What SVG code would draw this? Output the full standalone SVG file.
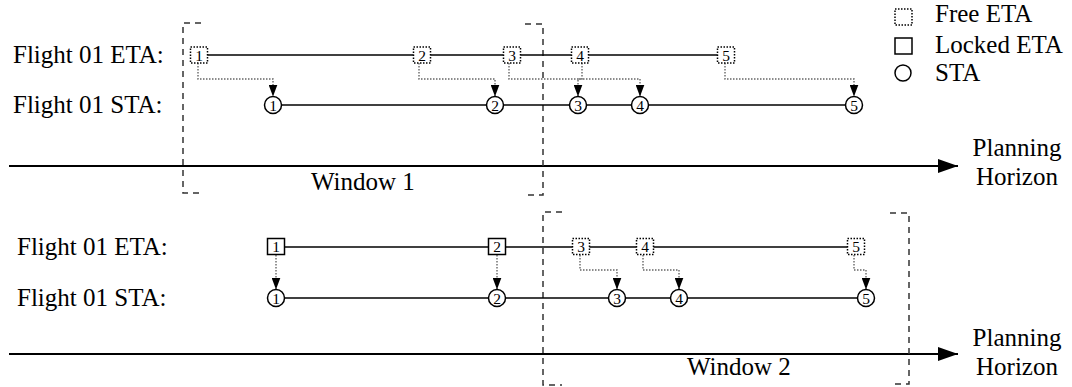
<svg xmlns="http://www.w3.org/2000/svg" width="1072" height="387" viewBox="0 0 1072 387">
<style>
text{font-family:"Liberation Serif","DejaVu Serif","Times New Roman",serif;fill:#000}
.lbl{font-size:25px}
.num{font-size:15.5px;text-anchor:middle}
.free{fill:#fff;stroke:#000;stroke-width:1.5;stroke-dasharray:1.5 1.5}
.locked{fill:#fff;stroke:#000;stroke-width:1.5}
.sta{fill:#fff;stroke:#000;stroke-width:1.5}
.tl{stroke:#000;stroke-width:1.6;fill:none}
.conn{stroke:#666;stroke-width:1.4;stroke-dasharray:1.5 1.5;fill:none;marker-end:url(#ah)}
.axis{stroke:#000;stroke-width:2;fill:none;marker-end:url(#ax)}
.win{stroke:#333;stroke-width:1.5;stroke-dasharray:6 5;fill:none}
</style>
<defs>
<marker id="ah" markerUnits="userSpaceOnUse" markerWidth="12" markerHeight="9" refX="12" refY="4.5" orient="auto" viewBox="0 0 12 9">
<path d="M0,0 L12,4.5 L0,9 z" fill="#000" stroke="none"/>
</marker>
<marker id="ax" markerUnits="userSpaceOnUse" markerWidth="20" markerHeight="14" refX="20" refY="7" orient="auto" viewBox="0 0 20 14">
<path d="M0,0 L20,7 L0,14 z" fill="#000" stroke="none"/>
</marker>
</defs>

<g id="axes">
<path class="axis" d="M9,166 H958"/>
<path class="axis" d="M9,354 H958"/>
<text class="lbl" x="1017" y="156" text-anchor="middle">Planning</text>
<text class="lbl" x="1017" y="185" text-anchor="middle">Horizon</text>
<text class="lbl" x="1017" y="346" text-anchor="middle">Planning</text>
<text class="lbl" x="1017" y="375" text-anchor="middle">Horizon</text>
</g>

<g id="window1">
<path class="win" d="M201,23 H183 V193 H201"/>
<path class="win" d="M525,24 H543 V195 H525"/>
<text class="lbl" x="311" y="190">Window 1</text>
</g>
<g id="window2">
<path class="win" d="M562,212 H543 V385 H562"/>
<path class="win" d="M890,213 H909 V384 H890"/>
<text class="lbl" x="687" y="375">Window 2</text>
</g>

<g id="legend">
<rect class="free" x="895" y="9" width="17" height="16"/>
<text class="lbl" x="935" y="22">Free ETA</text>
<rect class="locked" x="895" y="38" width="17" height="16"/>
<text class="lbl" x="935" y="53">Locked ETA</text>
<circle class="sta" cx="903" cy="73" r="8"/>
<text class="lbl" x="935" y="81">STA</text>
</g>

<g id="labels">
<text class="lbl" x="13" y="63">Flight 01 ETA:</text>
<text class="lbl" x="13" y="113">Flight 01 STA:</text>
<text class="lbl" x="17" y="255">Flight 01 ETA:</text>
<text class="lbl" x="17" y="306">Flight 01 STA:</text>
</g>

<g id="timelines">
<line class="tl" x1="207" y1="55" x2="718" y2="55"/>
<line class="tl" x1="281" y1="105" x2="846" y2="105"/>
<line class="tl" x1="284" y1="247" x2="848" y2="247"/>
<line class="tl" x1="284" y1="298" x2="858" y2="298"/>
</g>

<g id="connectors">
<path class="conn" d="M198,63 V79 H273 V96.5"/>
<path class="conn" d="M419,63 V79 H495 V96.5"/>
<path class="conn" d="M509,63 V79 H640 V96.5"/>
<path class="conn" d="M582,63 V79 H578 V96.5"/>
<path class="conn" d="M725,63 V79 H854 V96.5"/>
<path class="conn" d="M276,255 V289.5"/>
<path class="conn" d="M497,255 V289.5"/>
<path class="conn" d="M580,255 V270 H617 V289.5"/>
<path class="conn" d="M643,255 V270 H679 V289.5"/>
<path class="conn" d="M854,255 V270 H866 V289.5"/>
</g>

<g id="eta1-1"><rect class="free" x="190.5" y="47" width="17" height="16"/><text class="num" x="199" y="60.5">1</text></g>
<g id="eta1-2"><rect class="free" x="413.5" y="47" width="17" height="16"/><text class="num" x="422" y="60.5">2</text></g>
<g id="eta1-3"><rect class="free" x="503.5" y="47" width="17" height="16"/><text class="num" x="512" y="60.5">3</text></g>
<g id="eta1-4"><rect class="free" x="571.5" y="47" width="17" height="16"/><text class="num" x="580" y="60.5">4</text></g>
<g id="eta1-5"><rect class="free" x="717.5" y="47" width="17" height="16"/><text class="num" x="726" y="60.5">5</text></g>

<g id="sta1-1"><circle class="sta" cx="273" cy="105" r="8.5"/><text class="num" x="273" y="110.5">1</text></g>
<g id="sta1-2"><circle class="sta" cx="495" cy="105" r="8.5"/><text class="num" x="495" y="110.5">2</text></g>
<g id="sta1-3"><circle class="sta" cx="578" cy="105" r="8.5"/><text class="num" x="578" y="110.5">3</text></g>
<g id="sta1-4"><circle class="sta" cx="640" cy="105" r="8.5"/><text class="num" x="640" y="110.5">4</text></g>
<g id="sta1-5"><circle class="sta" cx="854" cy="105" r="8.5"/><text class="num" x="854" y="110.5">5</text></g>

<g id="eta2-1"><rect class="locked" x="267.5" y="238.5" width="17" height="16"/><text class="num" x="276" y="252">1</text></g>
<g id="eta2-2"><rect class="locked" x="488.5" y="238.5" width="17" height="16"/><text class="num" x="497" y="252">2</text></g>
<g id="eta2-3"><rect class="free" x="572.5" y="238.5" width="17" height="16"/><text class="num" x="581" y="252">3</text></g>
<g id="eta2-4"><rect class="free" x="636.5" y="238.5" width="17" height="16"/><text class="num" x="645" y="252">4</text></g>
<g id="eta2-5"><rect class="free" x="847.5" y="238.5" width="17" height="16"/><text class="num" x="856" y="252">5</text></g>

<g id="sta2-1"><circle class="sta" cx="276" cy="298" r="8.5"/><text class="num" x="276" y="303.5">1</text></g>
<g id="sta2-2"><circle class="sta" cx="497" cy="298" r="8.5"/><text class="num" x="497" y="303.5">2</text></g>
<g id="sta2-3"><circle class="sta" cx="617" cy="298" r="8.5"/><text class="num" x="617" y="303.5">3</text></g>
<g id="sta2-4"><circle class="sta" cx="679" cy="298" r="8.5"/><text class="num" x="679" y="303.5">4</text></g>
<g id="sta2-5"><circle class="sta" cx="866" cy="298" r="8.5"/><text class="num" x="866" y="303.5">5</text></g>
</svg>
